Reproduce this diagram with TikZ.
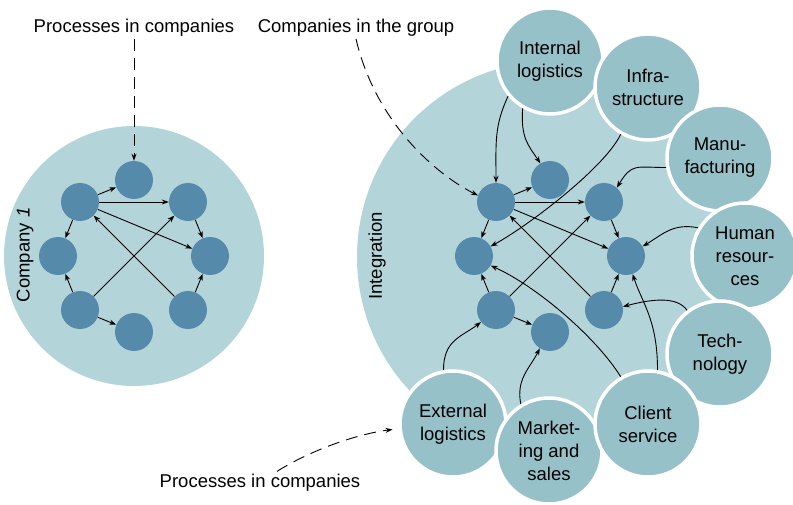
\documentclass[tikz,border=0pt]{standalone}
\usepackage{fontspec}
\setmainfont{Liberation Sans}
\usetikzlibrary{positioning, arrows.meta}

\definecolor{groupfill}{HTML}{B3D5DA}
\definecolor{areafill}{HTML}{96C1C8}
\definecolor{procfill}{HTML}{568AAA}

\begin{document}
\begin{tikzpicture}[x=1pt, y=-1pt,
    every node/.style={font=\fontsize{18.5}{23}\selectfont},
    company/.style={circle, fill=groupfill, inner sep=0pt},
    process/.style={circle, fill=procfill, minimum size=38pt, inner sep=0pt},
    area/.style={circle, fill=areafill, draw=white, line width=3.5pt, minimum size=106pt, inner sep=0pt, align=center},
    caption/.style={inner sep=2pt},
    link/.style={-{Stealth[length=7pt, width=5pt]}, line width=0.9pt},
    hint/.style={link, dash pattern=on 12pt off 7pt}]
      \useasboundingbox (0,0) rectangle (793,505);

      % Big circles
      \node[company, minimum size=260pt] (comp) at (134,256) {};
      \node[company, minimum size=392pt] (integ) at (553,257) {};
      \node[rotate=90] (complabel) at (25,255) {Company \textit{1}};
      \node[rotate=90] (integlabel) at (377,256) {Integration};

      % Processes in company 1
      \node[process] (c1) at (134,180) {};
      \node[process] (c2) at (188,202) {};
      \node[process] (c3) at (210,256) {};
      \node[process] (c4) at (188,310) {};
      \node[process] (c5) at (134,332) {};
      \node[process] (c6) at (80,310) {};
      \node[process] (c7) at (58,256) {};
      \node[process] (c8) at (80,202) {};

      % Processes in the group
      \node[process] (g1) at (550,180) {};
      \node[process] (g2) at (604,202) {};
      \node[process] (g3) at (626,256) {};
      \node[process] (g4) at (604,310) {};
      \node[process] (g5) at (550,332) {};
      \node[process] (g6) at (496,310) {};
      \node[process] (g7) at (474,256) {};
      \node[process] (g8) at (496,202) {};

      % Integration areas
      \node[area] (intlog) at (550,61) {Internal\\logistics};
      \node[area] (infra) at (648,87) {Infra-\\structure};
      \node[area] (manu) at (720,158) {Manu-\\facturing};
      \node[area] (hr) at (745,256) {Human\\resour-\\ces};
      \node[area] (tech) at (720,354) {Tech-\\nology};
      \node[area] (extlog) at (453,424) {External\\logistics};
      \node[area] (market) at (549,451) {Market-\\ing and\\sales};
      \node[area] (client) at (648,424) {Client\\service};

      % Captions
      \node[caption, anchor=base] (proc1) at (134,33) {Processes in companies};
      \node[caption, anchor=base] (group) at (356,33) {Companies in the group};
      \node[caption, anchor=base] (proc2) at (260,487) {Processes in companies};

      % Edges in company 1
      \draw[link] (c8) -- (c1);
      \draw[link] (c8) -- (c2);
      \draw[link] (c8) -- (c3);
      \draw[link] (c8) -- (c7);
      \draw[link] (c2) -- (c3);
      \draw[link] (c6) -- (c7);
      \draw[link] (c6) -- (c5);
      \draw[link] (c6) -- (c2);
      \draw[link] (c4) -- (c8);
      \draw[link] (c4) -- (c3);

      % Edges in the group
      \draw[link] (g8) -- (g1);
      \draw[link] (g8) -- (g2);
      \draw[link] (g8) -- (g3);
      \draw[link] (g8) -- (g7);
      \draw[link] (g2) -- (g3);
      \draw[link] (g6) -- (g7);
      \draw[link] (g6) -- (g5);
      \draw[link] (g6) -- (g2);
      \draw[link] (g4) -- (g8);
      \draw[link] (g4) -- (g3);

      % Edges from the areas
      \draw[link] (intlog.220) .. controls +(-14,30) and +(0,-40) .. (g8.north);
      \draw[link] (intlog.240) .. controls +(-2,30) and +(-12,-18) .. (g1.120);
      \draw[link] (infra.240) .. controls +(-15,32) and +(40,-22) .. (g7.30);
      \draw[link] (manu.190) .. controls +(-30,0) and +(15,-25) .. (g2.48);
      \draw[link] (hr.149) .. controls +(-25,-5) and +(20,-12) .. (g3.30);
      \draw[link] (tech.127) .. controls +(-10,-14) and +(30,-8) .. (g4.10);
      \draw[link] (client.80) .. controls +(0,-50) and +(10,30) .. (g3.-70);
      \draw[link] (client.120) .. controls +(-25,-40) and +(45,20) .. (g7.-30);
      \draw[link] (extlog.100) .. controls +(0,-30) and +(-20,15) .. (g6.219);
      \draw[link] (market.121) .. controls +(-5,-25) and +(-10,20) .. (g5.238);

      % Caption arrows
      \draw[hint] (proc1.south) -- (c1.north);
      \draw[hint] (group.south) .. controls +(20,85) and +(-40,-20) .. (g8.160);
      \draw[hint, shorten >=6pt] ([xshift=17pt]proc2.north) .. controls +(35,-22) and +(-40,5) .. (extlog.185);
    \end{tikzpicture}
\end{document}
